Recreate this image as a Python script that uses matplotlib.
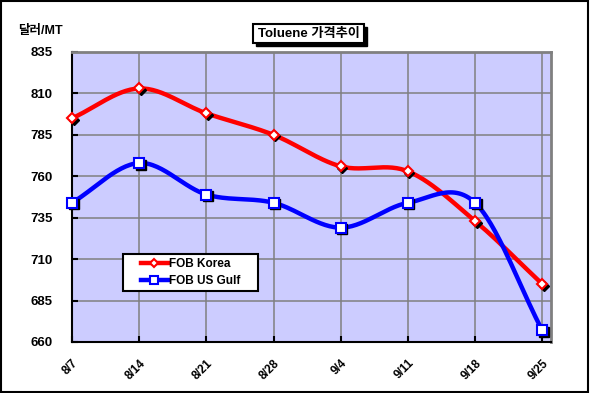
import numpy as np
import matplotlib
matplotlib.use("Agg")
import matplotlib.pyplot as plt
from matplotlib.patches import Rectangle
import matplotlib.transforms as mtrans

plt.rcParams['font.family'] = ['Liberation Sans', 'Noto Sans CJK KR', 'DejaVu Sans']

dates = ["8/7", "8/14", "8/21", "8/28", "9/4", "9/11", "9/18", "9/25"]
fob_korea = [795, 813, 798, 785, 766, 763, 733, 695]
fob_usgulf = [744, 768, 749, 744, 729, 744, 744, 667]
yticks = [660, 685, 710, 735, 760, 785, 810, 835]


def smooth(x, y, n=30):
    # Catmull-Rom style smoothing (like Excel's smoothed line)
    x = np.asarray(x, float); y = np.asarray(y, float)
    px = np.concatenate([[2 * x[0] - x[1]], x, [2 * x[-1] - x[-2]]])
    py = np.concatenate([[2 * y[0] - y[1]], y, [2 * y[-1] - y[-2]]])
    xs, ys = [], []
    for i in range(1, len(px) - 2):
        t = np.linspace(0, 1, n, endpoint=False)
        for P, out in ((px, xs), (py, ys)):
            p0, p1, p2, p3 = P[i - 1], P[i], P[i + 1], P[i + 2]
            b1 = p1 + (p2 - p0) / 6
            b2 = p2 - (p3 - p1) / 6
            out.extend((1 - t) ** 3 * p1 + 3 * (1 - t) ** 2 * t * b1 + 3 * (1 - t) * t ** 2 * b2 + t ** 3 * p2)
    xs.append(x[-1]); ys.append(y[-1])
    return np.array(xs), np.array(ys)


W, H = 590, 393
fig = plt.figure(figsize=(5.9, 3.93), dpi=100)
fig.patch.set_facecolor('white')
fig.add_artist(Rectangle((0.002, 0.003), 0.995, 0.994, transform=fig.transFigure,
                         fill=False, edgecolor='black', linewidth=1.5))

ax = fig.add_axes([72 / W, 1 - 342 / H, (551 - 72) / W, (342 - 52) / H])
ax.set_facecolor('#CCCCFF')
x = np.arange(len(dates))
ax.set_xlim(0, 7.13)
ax.set_ylim(660, 835)

for yv in yticks:
    ax.axhline(yv, color='#808080', lw=1.1, zorder=1)
for xv in x[1:]:
    ax.axvline(xv, color='#808080', lw=1.1, zorder=1)

shadow = ax.transData + mtrans.ScaledTranslation(1.5 / 100, -1.5 / 100, fig.dpi_scale_trans)
for vals, col, mk, ms, lab in ((fob_korea, '#FF0000', 'D', 5.5, 'FOB Korea'),
                                (fob_usgulf, '#0000FF', 's', 6.5, 'FOB US Gulf')):
    sx, sy = smooth(x, vals)
    ax.plot(sx, sy, color=col, lw=3.2, zorder=3, solid_capstyle='butt')
    ax.plot(x, vals, linestyle='none', marker=mk, ms=ms, mfc='black', mec='black',
            zorder=4, transform=shadow, clip_on=False)
    ax.plot(x, vals, linestyle='none', marker=mk, ms=ms, mfc='white', mec=col, mew=1.5,
            zorder=5, clip_on=False)
    ax.plot([], [], color=col, lw=3.2, marker=mk, ms=ms - 1, mfc='white', mec=col, mew=1.5, label=lab)

for s in ('left', 'bottom'):
    ax.spines[s].set_color('black'); ax.spines[s].set_linewidth(1.5)
for s in ('top', 'right'):
    ax.spines[s].set_color('#808080'); ax.spines[s].set_linewidth(2)

ax.set_yticks(yticks)
ax.set_yticklabels([str(v) for v in yticks], fontsize=9.5, fontweight='bold')
ax.set_xticks(x)
ax.set_xticklabels(dates, fontsize=8.5, fontweight='bold', rotation=45, ha='right', rotation_mode='anchor')
ax.tick_params(axis='y', direction='in', length=4, width=1.5, pad=14)
ax.tick_params(axis='x', direction='in', length=4, width=1.5, pad=11)

# legend box
lx0, lx1, ly0, ly1 = 123, 258, 254, 291
fig.add_artist(Rectangle((lx0 / W, 1 - ly1 / H), (lx1 - lx0) / W, (ly1 - ly0) / H,
                         transform=fig.transFigure, facecolor='white', edgecolor='black', lw=1.5,
                         zorder=9))
leg = fig.legend(loc='center', bbox_to_anchor=((lx0 + lx1) / 2 / W, 1 - (ly0 + ly1) / 2 / H),
                 frameon=False, prop={'size': 8.5, 'weight': 'bold'}, handlelength=2.3,
                 handletextpad=0.1, borderpad=0.2, labelspacing=0.45, borderaxespad=0)
leg.set_zorder(10)

fig.text(18 / W, 1 - 31 / H, '달러/MT', fontsize=9, fontweight='bold', va='center', ha='left')
# title box with shadow
tx0, tx1, ty0, ty1 = 253, 364, 24, 43
fig.add_artist(Rectangle(((tx0 + 3) / W, 1 - (ty1 + 3) / H), (tx1 - tx0) / W, (ty1 - ty0) / H,
                         transform=fig.transFigure, facecolor='black', edgecolor='black', lw=1))
fig.add_artist(Rectangle((tx0 / W, 1 - ty1 / H), (tx1 - tx0) / W, (ty1 - ty0) / H,
                         transform=fig.transFigure, facecolor='white', edgecolor='black', lw=1.5))
fig.text((tx0 + tx1) / 2 / W, 1 - (ty0 + ty1) / 2 / H, 'Toluene 가격추이', fontsize=9.5,
         fontweight='bold', va='center', ha='center', zorder=5)

fig.savefig('out.png', dpi=100)
